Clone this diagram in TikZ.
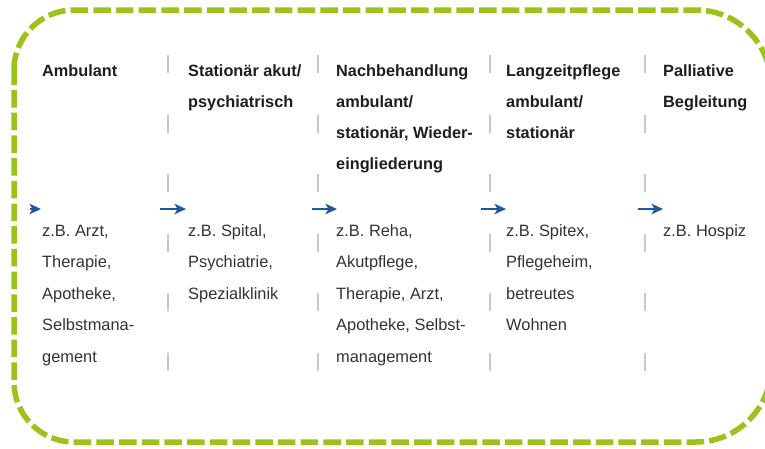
\documentclass[tikz,border=0pt]{standalone}
\usepackage{fontspec}
\setmainfont{Liberation Sans}
\usetikzlibrary{arrows.meta}
\definecolor{lime}{RGB}{155,195,25}
\definecolor{flowblue}{RGB}{30,90,155}
\definecolor{sepgray}{RGB}{200,200,200}
\definecolor{headtext}{RGB}{30,30,30}
\definecolor{bodytext}{RGB}{50,50,50}
\begin{document}
\begin{tikzpicture}[x=1pt,y=-1pt,
  frame/.style={draw=lime, line width=5.5pt, dash pattern=on 17.5pt off 5.2pt},
  sepline/.style={draw=sepgray, line width=1.3pt, dash pattern=on 18pt off 41.5pt},
  flow/.style={draw=flowblue, line width=2pt, -{Stealth[length=11.5pt,width=10.5pt,inset=3pt]}},
  head/.style={anchor=base west, inner sep=0pt, align=left, text=headtext, font=\fontsize{16.3}{31.3}\selectfont\bfseries},
  body/.style={anchor=base west, inner sep=0pt, align=left, text=bodytext, font=\fontsize{16.4}{31.5}\selectfont},
]
\useasboundingbox (0,0) rectangle (765,448);
% dashed frame (right side runs just past the picture edge)
\draw[frame] (14,70) arc[start angle=180, end angle=270, radius=60]
  -- (696,10) arc[start angle=270, end angle=360, radius=75]
  -- (771,367) arc[start angle=0, end angle=90, radius=75]
  -- (74,442) arc[start angle=90, end angle=180, radius=60]
  -- cycle;

% separators
\foreach \sx in {168,318,490,645}{
  \draw[sepline] (\sx,55) -- (\sx,373);
}

% arrows
\coordinate (a1s) at (30,209);  \coordinate (a1e) at (41,209);
\coordinate (a2s) at (160,209); \coordinate (a2e) at (186,209);
\coordinate (a3s) at (312,209); \coordinate (a3e) at (337,209);
\coordinate (a4s) at (481,209); \coordinate (a4e) at (506,209);
\coordinate (a5s) at (638,209); \coordinate (a5e) at (663,209);
\draw[flow] (a1s) -- (a1e);
\draw[flow] (a2s) -- (a2e);
\draw[flow] (a3s) -- (a3e);
\draw[flow] (a4s) -- (a4e);
\draw[flow] (a5s) -- (a5e);

% headers (anchored at the baseline of their last line)
\node[head] (h1) at (42,76) {Ambulant};
\node[head] (h2) at (188,107.3) {Stationär akut/\\psychiatrisch};
\node[head] (h3) at (336,169.9) {Nachbehandlung\\ambulant/\\stationär, Wieder-\\eingliederung};
\node[head] (h4) at (506,138.6) {Langzeitpflege\\ambulant/\\stationär};
\node[head] (h5) at (663,107.3) {Palliative\\Begleitung};

% bodies (anchored at the baseline of their last line)
\node[body] (b1) at (42,362) {z.B. Arzt,\\Therapie,\\Apotheke,\\Selbstmana-\\gement};
\node[body] (b2) at (188,299) {z.B. Spital,\\Psychiatrie,\\Spezialklinik};
\node[body] (b3) at (336,362) {z.B. Reha,\\Akutpflege,\\Therapie, Arzt,\\Apotheke, Selbst-\\management};
\node[body] (b4) at (506,330.5) {z.B. Spitex,\\Pflegeheim,\\betreutes\\Wohnen};
\node[body] (b5) at (663,236) {z.B. Hospiz};
\end{tikzpicture}
\end{document}
